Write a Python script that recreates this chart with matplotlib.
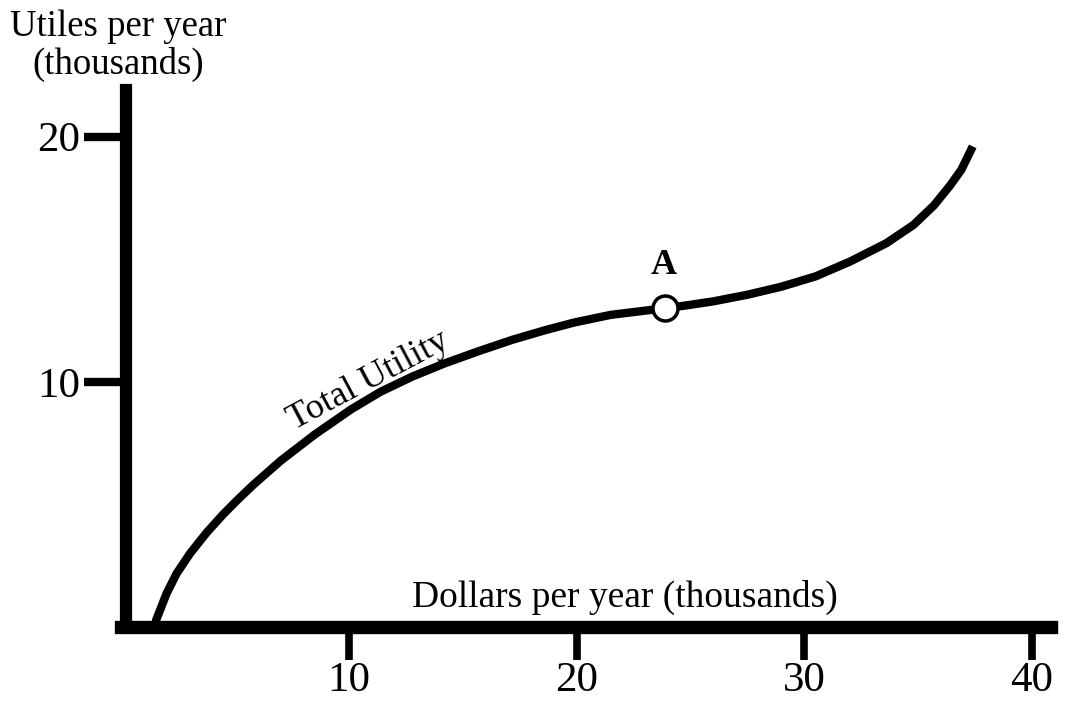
import matplotlib
matplotlib.use("Agg")
import matplotlib.pyplot as plt

# Total utility curve (dollars in thousands, utiles in thousands)
dollars = [1.45, 1.55, 1.99, 2.43, 3.02, 3.75, 4.48, 5.1, 5.8, 7.0, 8.5, 10.1, 11.4,
           12.8, 14.2, 15.7, 17.2, 18.6, 19.9, 21.5, 23.88, 24.7, 26.0, 27.5,
           29.0, 30.5, 32.0, 33.6, 34.8, 35.7, 36.4, 36.9, 37.4]
utiles = [0.0, 0.33, 1.37, 2.18, 3.0, 3.85, 4.6, 5.18, 5.8, 6.78, 7.85, 8.88, 9.6,
          10.22, 10.75, 11.25, 11.72, 12.1, 12.42, 12.73, 13.0, 13.1, 13.28, 13.55,
          13.88, 14.3, 14.9, 15.65, 16.4, 17.2, 18.0, 18.65, 19.6]

point_a = (23.88, 13.0)
x_ticks = [10, 20, 30, 40]
y_ticks = [10, 20]

plt.rcParams['font.family'] = ['Liberation Serif', 'DejaVu Serif']

fig = plt.figure(figsize=(10.71, 7.06), dpi=100)
# x = 0 sits at 121 px, y = 0 at 627 px (from the top)
ax = fig.add_axes([121.3 / 1071, 79 / 706, 930 / 1071, 537 / 706])
ax.set_xlim(0, 40.85)
ax.set_ylim(0, 21.9)

# curve and point A
ax.plot(dollars, utiles, color='black', linewidth=6, solid_capstyle='butt',
        solid_joinstyle='round', clip_on=False)
ax.plot(*point_a, marker='o', markersize=18, markerfacecolor='white',
        markeredgecolor='black', markeredgewidth=2.5, clip_on=False, zorder=5)
ax.text(point_a[0] - 0.05, point_a[1] + 1.05, 'A', fontsize=26, fontweight='bold',
        ha='center', va='bottom')

ax.text(10.85, 10.05, 'Total Utility', fontsize=26, rotation=28,
        ha='center', va='center', rotation_mode='anchor')
ax.text(22.1, 1.2, 'Dollars per year (thousands)', fontsize=27,
        ha='center', va='center')
fig.text(118 / 1071, 1 - 46 / 706, 'Utiles per year\n(thousands)', fontsize=26.5,
         ha='center', va='center', linespacing=1.1)

# axes styling
for side in ['top', 'right']:
    ax.spines[side].set_visible(False)
ax.spines['left'].set_position(('data', 0.2))
ax.spines['left'].set_linewidth(8.8)
ax.spines['bottom'].set_linewidth(9.6)
for side in ['left', 'bottom']:
    ax.spines[side].set_capstyle('projecting')

ax.set_xticks(x_ticks)
ax.set_yticks(y_ticks)
ax.set_xticklabels([str(t) for t in x_ticks])
ax.set_yticklabels([str(t) for t in y_ticks])
ax.tick_params(axis='x', direction='out', length=24, width=5.5, labelsize=31, pad=1)
ax.tick_params(axis='y', direction='out', length=30, width=6, labelsize=31, pad=3)

fig.savefig('out.png', dpi=100)
